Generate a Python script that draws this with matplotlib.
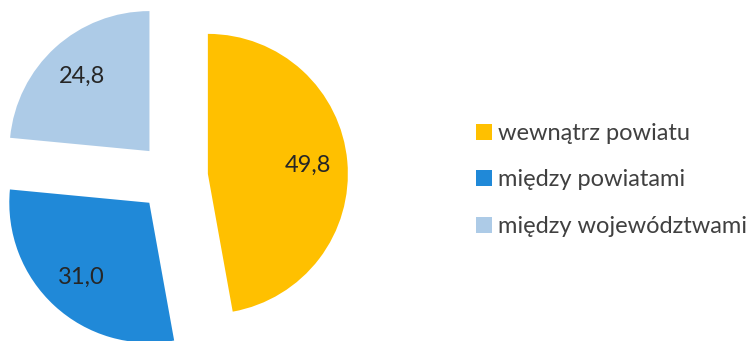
import matplotlib.pyplot as plt
from matplotlib.patches import Patch

# data
categories = ["wewnątrz powiatu", "między powiatami", "między województwami"]
values = [49.8, 31.0, 24.8]
value_labels = ["49,8", "31,0", "24,8"]
colors = ["#FFC000", "#2089D8", "#ADCBE7"]

W, H = 754, 341

def main():
	plt.rcParams['font.family'] = ['Lato', 'DejaVu Sans']
	fig = plt.figure(figsize=(W / 100, H / 100), dpi=100)
	ax = fig.add_axes([0, 0, 1, 1])

	# radius in pixels, explode is absolute in data units
	r = 140
	wedges, texts = ax.pie(values, colors=colors, startangle=90, counterclock=False,
						   explode=[0.25 * r] * 3, radius=r, center=(173, 164),
						   labels=value_labels, labeldistance=0.72, frame=True,
						   textprops=dict(fontsize=17, color='#262626', ha='center', va='center'))
	ax.set_xlim(0, W)
	ax.set_ylim(0, H)
	ax.set_aspect('equal')
	ax.axis('off')

	handles = [Patch(facecolor=c, edgecolor='none') for c in colors]
	fig.legend(handles, categories, loc='center left', bbox_to_anchor=(476 / W, 1 - 180 / H),
			   frameon=False, fontsize=17, labelcolor='#404040', handlelength=0.68,
			   handleheight=0.68, handletextpad=0.25, labelspacing=1.08,
			   borderpad=0, borderaxespad=0)

	fig.savefig('out.png', dpi=100)

if __name__ == '__main__':
	main()
